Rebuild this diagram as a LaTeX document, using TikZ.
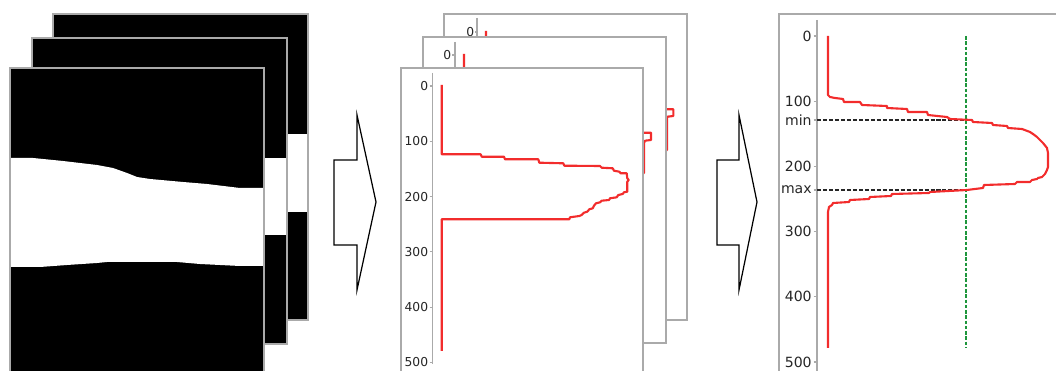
\documentclass[tikz,border=0pt]{standalone}
\usepackage{fontspec}
\setmainfont{DejaVu Sans}
\definecolor{plotred}{RGB}{242,44,44}
\definecolor{plotgreen}{RGB}{30,150,60}
\definecolor{framegray}{RGB}{170,170,170}

\begin{document}
\begin{tikzpicture}[x=0.02cm,y=-0.02cm,
        frame/.style={draw=framegray,line width=0.6pt},
        sheet/.style={frame,fill=white},
        spine/.style={draw=framegray,line width=0.6pt},
        profile/.style={draw=plotred,line width=1.2pt,line join=round},
        tick/.style={font=\fontsize{7}{8}\selectfont,text=black!85,inner sep=0pt,anchor=east},
        bigtick/.style={tick,font=\fontsize{8}{9}\selectfont},
        bound/.style={draw=black!85,line width=0.6pt,dash pattern=on 2.3pt off 1.1pt},
        level/.style={draw=plotgreen,line width=0.6pt,dash pattern=on 2pt off 1pt},
        blockarrow/.style={draw=black,line width=0.7pt,fill=white,line join=miter}]
        \clip (0,0) rectangle (1056,371);

        \fill (53,14) rectangle (308,320);
        \fill[white] (53,134) rectangle (308,212);
        \draw[frame] (53,14) rectangle (308,320);
        \fill (32,38) rectangle (287,344);
        \fill[white] (32,158) rectangle (287,235);
        \draw[frame] (32,38) rectangle (287,344);
        \fill (10,68) rectangle (264,380);
        \fill[white] (10,158) -- (33,158) -- (63,161) -- (97,165) -- (113,168) -- (127,173)
            -- (137,177) -- (150,179) -- (183,182) -- (207,184) -- (240,188) -- (264,188)
            -- (264,266) -- (240,266) -- (200,264) -- (177,262) -- (107,262) -- (97,263)
            -- (67,265) -- (40,267) -- (10,267) -- cycle;
        \draw[frame] (10,68) rectangle (264,380);

        \draw[blockarrow] (334,160) -- (357,160) -- (357,115) -- (376,202) -- (357,290) -- (357,245) -- (334,245) -- cycle;

        \draw[sheet] (444,14) rectangle (687,320);
        \draw[spine] (477,18) -- (477,60);
        \draw[spine] (475,32) -- (477,32);
        \node[tick] (b0) at (474.5,32) {0};
        \draw[profile] (486,31) -- (486,100) -- (600,100) -- (600,104) -- (660,104) -- (660,109.3)
            -- (673.3,109.3) -- (673.3,116) -- (667.3,116.7) -- (667,120) -- (667,150)
            -- (600,165) -- (486,172) -- (486,300);

        \draw[sheet] (423,37) rectangle (666,343);
        \draw[spine] (455,42) -- (455,80);
        \draw[spine] (452,55) -- (455,55);
        \node[tick] (c0) at (451.5,55) {0};
        \draw[profile] (464,54) -- (464,122) -- (560,122) -- (560,126) -- (620,126) -- (620,132.7)
            -- (651,132.7) -- (651,140) -- (645,140.7) -- (644,143.3) -- (644,173)
            -- (600,185) -- (464,192) -- (464,330);

        \draw[sheet] (401,68) rectangle (643,380);
        \draw[spine] (432.5,73) -- (432.5,364);
        \draw[spine] (429.5,86) -- (432.5,86);
        \draw[spine] (429.5,141.3) -- (432.5,141.3);
        \draw[spine] (429.5,196.6) -- (432.5,196.6);
        \draw[spine] (429.5,251.9) -- (432.5,251.9);
        \draw[spine] (429.5,307.2) -- (432.5,307.2);
        \draw[spine] (429.5,362.5) -- (432.5,362.5);
        \node[tick] (m0) at (428.5,86) {0};
        \node[tick] (m1) at (428.5,141.3) {100};
        \node[tick] (m2) at (428.5,196.6) {200};
        \node[tick] (m3) at (428.5,251.9) {300};
        \node[tick] (m4) at (428.5,307.2) {400};
        \node[tick] (m5) at (428.5,362.5) {500};
        \draw[profile] (441.7,85) -- (441.7,154.3) -- (480.7,154.3) -- (481.7,156.7) -- (504,156.7)
            -- (505,159.3) -- (538.3,159.3) -- (539.3,162.7) -- (563.3,163.3) -- (564.3,165.7)
            -- (600,166) -- (601.7,167.7) -- (612.7,168.3) -- (614,170.7) -- (619.3,171.7)
            -- (620.7,173.3) -- (626.7,173.3) -- (627.3,178.3) -- (628.7,180) -- (627.3,181.7)
            -- (627.3,191.7) -- (624,192.3) -- (622.7,194) -- (618.3,195) -- (616.7,197.3)
            -- (610,198.3) -- (609,200) -- (601.7,200.7) -- (600,202.3) -- (596,203.3)
            -- (594,205.7) -- (592.7,208.3) -- (589.3,209.3) -- (587.3,211.7) -- (584,212.7)
            -- (581.7,215) -- (579.3,216) -- (570,217.3) -- (569.3,219.3) -- (441.7,219.3)
            -- (441.7,351);

        \draw[blockarrow] (717,160) -- (739,160) -- (739,115) -- (757,202) -- (739,290) -- (739,245) -- (717,245) -- cycle;

        \draw[frame] (1060,14) -- (779,14) -- (779,380);
        \draw[spine] (817,20) -- (817,380);
        \draw[spine] (813.5,36) -- (817,36);
        \draw[spine] (813.5,101.2) -- (817,101.2);
        \draw[spine] (813.5,120) -- (817,120);
        \draw[spine] (813.5,166.4) -- (817,166.4);
        \draw[spine] (813.5,190) -- (817,190);
        \draw[spine] (813.5,231.6) -- (817,231.6);
        \draw[spine] (813.5,296.8) -- (817,296.8);
        \draw[spine] (813.5,362) -- (817,362);
        \node[bigtick] (r0) at (812,36) {0};
        \node[bigtick] (r1) at (812,101.2) {100};
        \node[bigtick] (rmin) at (812,120) {min};
        \node[bigtick] (r2) at (812,166.4) {200};
        \node[bigtick] (rmax) at (812,190) {max};
        \node[bigtick] (r3) at (812,231.6) {300};
        \node[bigtick] (r4) at (812,296.8) {400};
        \node[bigtick] (r5) at (812,362) {500};
        \draw[bound] (817,120) -- (966,120);
        \draw[bound] (817,190) -- (966,190);
        \draw[level] (966,36) -- (966,348);
        \draw[profile] (828,36) -- (828,95) -- (830,97) -- (835,98) -- (843,99) -- (844,102)
            -- (860,102) -- (862,105) -- (887,106) -- (887,108) -- (907,109) -- (908,112)
            -- (927,112) -- (928,115) -- (947,117) -- (950,119) -- (972,120) -- (973,122)
            -- (992,123) -- (993,125) -- (1007,126) -- (1008,128) -- (1022,129) -- (1030,132)
            -- (1033,134) -- (1037,137) -- (1040,140) -- (1043,143) -- (1047,148) -- (1048,153)
            -- (1048,167) -- (1047,170) -- (1045,174) -- (1042,177) -- (1038,178) -- (1037,179)
            -- (1032,180) -- (1030,182) -- (1017,182) -- (1015,184) -- (984,185) -- (983,188)
            -- (967,190) -- (930,192) -- (929,193) -- (892,194) -- (891,196) -- (870,197)
            -- (869,199) -- (850,200) -- (849,202) -- (833,203) -- (832,205) -- (829,207)
            -- (828,212) -- (828,348);
    \end{tikzpicture}
\end{document}
